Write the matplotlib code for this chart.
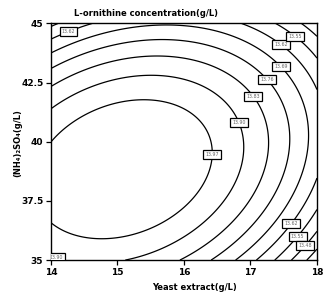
import numpy as np
import matplotlib
matplotlib.use("Agg")
import matplotlib.pyplot as plt

# response surface model: Z = b0 + b1*X + b2*Y + b11*X^2 + b22*Y^2 + b12*X*Y
# (X = yeast extract, Y = ammonium sulfate)
coef_names = ["b0", "b1", "b2", "b11", "b22", "b12"]
coef_values = [-6.6053, 1.07701, 0.645728, -0.0494146, -0.0103783, 0.0106399]

levels = [13.41, 13.48, 13.55, 13.62, 13.69, 13.76, 13.83, 13.90, 13.97]

x_range = [14, 18]
y_range = [35, 45]
x_ticks = [14, 15, 16, 17, 18]
y_ticks = [35, 37.5, 40, 42.5, 45]
y_tick_labels = ["35", "37.5", "40", "42.5", "45"]

# where the contour labels sit
label_pos = [(16.35, 39.47), (16.81, 40.78), (17.05, 41.94), (17.27, 42.66),
             (17.48, 43.23), (17.48, 44.20), (17.71, 44.61), (14.24, 44.84),
             (14.10, 35.25), (17.65, 36.45), (17.75, 35.91), (17.86, 35.52)]

b = dict(zip(coef_names, coef_values))

fig = plt.figure(figsize=(3.31, 3.01), dpi=100)
ax = fig.add_axes([0.154, 0.136, 0.8036, 0.786])

X, Y = np.meshgrid(np.linspace(x_range[0], x_range[1], 300),
                   np.linspace(y_range[0], y_range[1], 300))
Z = (b["b0"] + b["b1"] * X + b["b2"] * Y + b["b11"] * X * X
     + b["b22"] * Y * Y + b["b12"] * X * Y)

cs = ax.contour(X, Y, Z, levels=levels, colors="black", linewidths=0.9)
labels = ax.clabel(cs, fmt="%.2f", fontsize=3.4, inline=False, manual=label_pos)
for t in labels:
    t.set_bbox(dict(boxstyle="square,pad=0.45", facecolor="white",
                    edgecolor="black", linewidth=0.9))
    t.set_color("#666666")
    t.set_rotation(0)

ax.set_xlim(*x_range)
ax.set_ylim(*y_range)
ax.set_xticks(x_ticks)
ax.set_yticks(y_ticks)
ax.set_yticklabels(y_tick_labels)
ax.tick_params(direction="out", length=3.5, width=0.9, labelsize=6.5, pad=2)
for lab in ax.get_xticklabels() + ax.get_yticklabels():
    lab.set_fontweight("bold")
for s in ax.spines.values():
    s.set_linewidth(1.0)

fig.text(146 / 331, 1 - 13 / 301, "L-ornithine concentration(g/L)",
         ha="center", va="center", fontsize=6, fontweight="bold")
fig.text(194 / 331, 1 - 288 / 301, "Yeast extract(g/L)",
         ha="center", va="center", fontsize=6, fontweight="bold")
fig.text(18 / 331, 1 - 143 / 301, "(NH₄)₂SO₄(g/L)", rotation=90,
         ha="center", va="center", fontsize=6, fontweight="bold")

fig.savefig("out.png")
